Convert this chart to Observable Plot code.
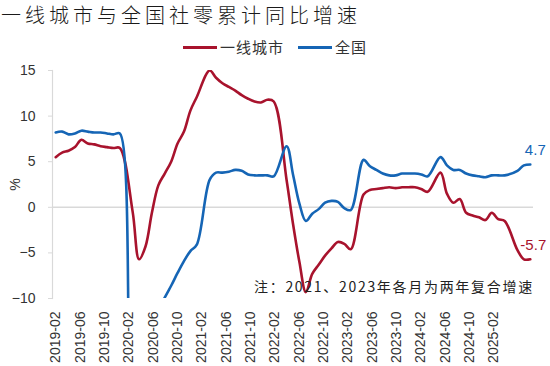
<!DOCTYPE html>
<html><head><meta charset="utf-8">
<script src="https://cdn.jsdelivr.net/npm/d3@7"></script>
<script src="https://cdn.jsdelivr.net/npm/@observablehq/plot@0.6"></script>
<style>
body{margin:0;background:#fff;}
#wrap{position:relative;width:550px;height:366px;overflow:hidden;font-family:"Noto Sans CJK SC",sans-serif;}
#chart{position:absolute;left:0;top:0;}
#title{position:absolute;left:1px;top:0px;font-size:20px;line-height:normal;letter-spacing:4px;color:#1a1a1a;white-space:nowrap;font-weight:300;}
#legend{position:absolute;left:183px;top:37px;display:flex;align-items:center;font-size:15px;line-height:20px;letter-spacing:1px;color:#333;white-space:nowrap;}
#legend .sw{width:34px;height:3px;margin-right:3px;}
#legend .item{display:flex;align-items:center;margin-right:14px;}
#note{position:absolute;left:254px;top:277px;font-size:14px;line-height:19px;letter-spacing:1.7px;color:#222;white-space:nowrap;}
</style></head>
<body>
<div id="wrap">
<div id="chart"></div>
<div id="title"></div>
<div id="legend"></div>
<div id="note"></div>
</div>
<script>
const titleText = "一线城市与全国社零累计同比增速";
const noteText = "注：2021、2023年各月为两年复合增速";
const seriesNames = ["一线城市", "全国"];
const seriesColors = ["#a8132d", "#1565b5"];

// monthly points 2019-02 … 2025-04 (January slots empty)
const tier1 = [
  5.5, 6.0, 6.2, 6.6, 7.4, 7.0, 6.9, 6.7, 6.6, 6.5, 6.5,
  null, -0.5, -5.7, -4.3, -0.6, 2.4, 3.7, 5.0, 7.0, 8.3, 10.6, 12.1,
  null, 15.0, 14.2, 13.6, 13.2, 12.8, 12.3, 11.9, 11.6, 11.5, 11.8, 11.6,
  null, 3.0, -1.8, -6.0, -9.3, -7.3, -6.3, -5.3, -4.5, -3.8, -4.0, -4.6,
  null, 1.4, 1.9, 2.0, 2.1, 2.2, 2.1, 2.2, 2.2, 2.2, 2.0, 1.7,
  null, 3.8, 1.5, 0.5, 0.9, -0.6, -0.9, -1.1, -1.4, -0.6, -1.3, -1.5,
  null, -4.7, -5.7, -5.7
];
const nation = [
  8.2, 8.3, 8.0, 8.1, 8.4, 8.3, 8.2, 8.2, 8.1, 8.0, 8.1,
  null, -20.5, -19.0, -16.2, -13.5, -11.4, -9.9, -8.6, -7.2, -5.9, -4.8, -4.1,
  null, 3.0, 3.8, 3.8, 3.9, 4.1, 4.0, 3.6, 3.5, 3.5, 3.5, 3.4,
  null, 6.7, 3.6, 0.4, -1.5, -0.7, -0.2, 0.5, 0.7, 0.6, -0.1, -0.3,
  null, 5.2, 4.5, 4.1, 3.7, 3.5, 3.5, 3.7, 3.7, 3.7, 3.6, 3.4,
  null, 5.5, 4.6, 4.1, 4.1, 3.7, 3.5, 3.4, 3.3, 3.5, 3.5, 3.5,
  null, 4.0, 4.6, 4.7
];
// category axis shown under the plot: 2019-02 … 2025-08, a label every 4th slot
const xTickLabels = ["2019-02","2019-06","2019-10","2020-02","2020-06","2020-10","2021-02","2021-06","2021-10","2022-02","2022-06","2022-10","2023-02","2023-06","2023-10","2024-02","2024-06","2024-10","2025-02"];
const labelSlots = 79;
const labelStep = 4;
const yTicks = [-10, -5, 0, 5, 10, 15];

const n = nation.length;
const toRows = (arr, name) => arr.map((v, i) => ({i, v, name})).filter(d => d.v != null);
const rowsT = toRows(tier1, seriesNames[0]);
const rowsN = toRows(nation, seriesNames[1]);
const tickPos = xTickLabels.map((_, k) => k * labelStep * (n - 1) / (labelSlots - 1));

const plot = Plot.plot({
  width: 550, height: 366,
  marginTop: 70, marginBottom: 68, marginLeft: 52, marginRight: 17,
  x: {domain: [-0.5, n - 0.5], axis: null},
  y: {domain: [-10, 15], axis: null},
  style: {fontFamily: "'Liberation Sans', Arial, sans-serif", background: "transparent", color: "#333"},
  marks: [
    Plot.frame({anchor: "left", stroke: "#d9d9d9", strokeWidth: 1.2}),
    Plot.ruleY([0], {stroke: "#d9d9d9", strokeWidth: 1.6}),
    Plot.axisY({ticks: yTicks, tickSize: 4, stroke: "#d9d9d9", tickFormat: () => "", label: null}),
    Plot.axisY({ticks: yTicks, tickSize: 0, tickPadding: 17, fontSize: 14, fill: "#333",
      label: "%", labelAnchor: "center", labelArrow: "none", labelOffset: 42}),
    Plot.axisX({ticks: tickPos, tickFormat: (d, i) => xTickLabels[i], tickRotate: -90, tickSize: 0,
      tickPadding: 13, fontSize: 14, fill: "#333", label: null}),
    Plot.line(rowsT, {x: "i", y: "v", stroke: seriesColors[0], strokeWidth: 2.6, curve: "catmull-rom", clip: true}),
    Plot.line(rowsN, {x: "i", y: "v", stroke: seriesColors[1], strokeWidth: 2.6, curve: "catmull-rom", clip: true}),
    Plot.text(rowsN.slice(-1), {x: "i", y: "v", text: d => d.v.toFixed(1), dy: -14, dx: 5, fill: seriesColors[1], fontSize: 15}),
    Plot.text(rowsT.slice(-1), {x: "i", y: "v", text: d => d.v.toFixed(1), dy: -14, dx: 3, fill: seriesColors[0], fontSize: 15})
  ]
});
document.getElementById("chart").appendChild(plot);
document.getElementById("title").textContent = titleText;
document.getElementById("note").textContent = noteText;
const leg = document.getElementById("legend");
seriesNames.forEach((s, k) => {
  const it = document.createElement("div"); it.className = "item";
  const sw = document.createElement("div"); sw.className = "sw"; sw.style.background = seriesColors[k];
  const tx = document.createElement("span"); tx.textContent = s;
  it.appendChild(sw); it.appendChild(tx); leg.appendChild(it);
});
</script>
</body></html>
